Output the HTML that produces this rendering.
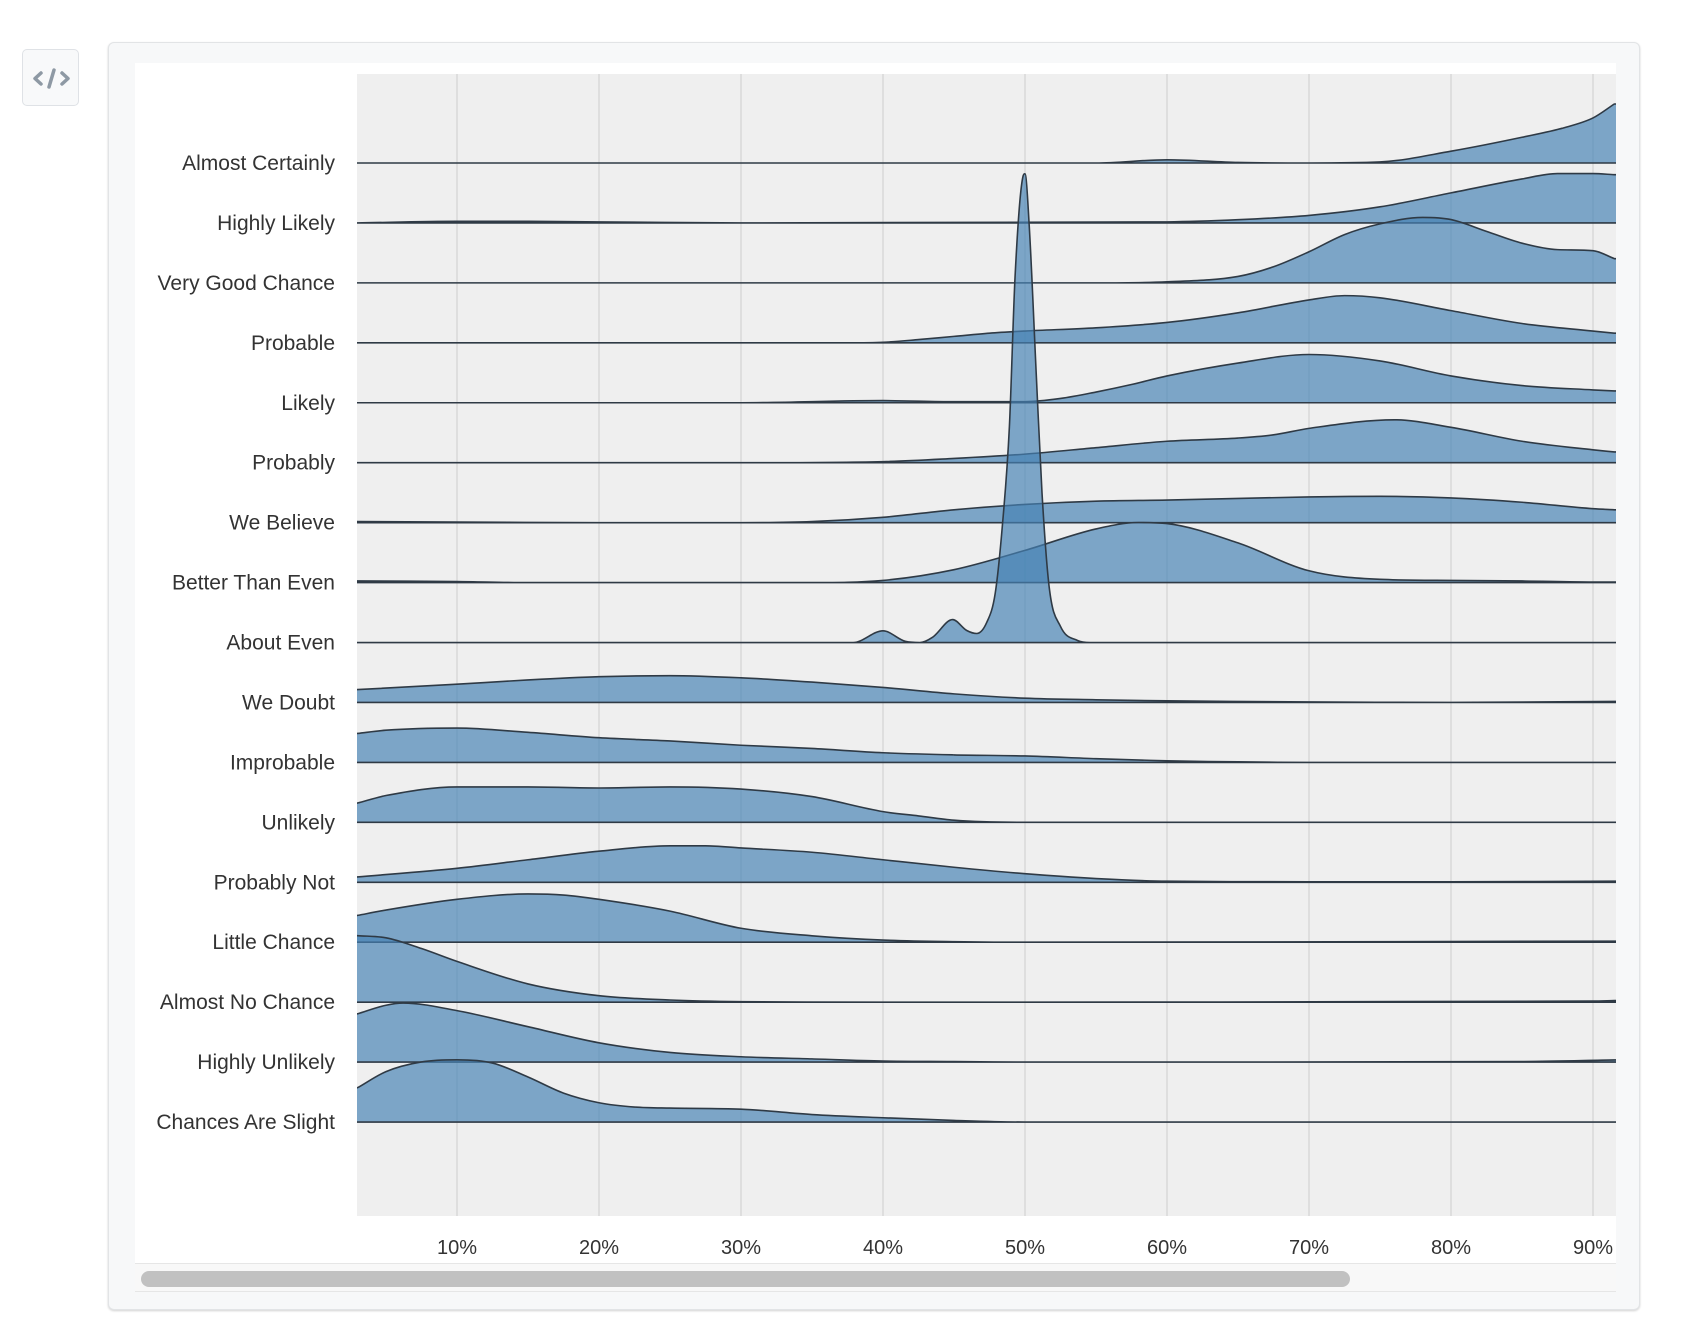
<!DOCTYPE html>
<html><head><meta charset="utf-8">
<style>
html,body{margin:0;padding:0;background:#fff;width:1682px;height:1344px;overflow:hidden;font-family:"Liberation Sans",Arial,sans-serif;}
#code-btn{position:absolute;left:22px;top:49px;width:57px;height:57px;border:1px solid #dfe2e6;border-radius:5px;background:#f8f9fa;box-sizing:border-box;}
#card{position:absolute;left:108px;top:42px;width:1532px;height:1268px;background:#f7f8f9;border:1px solid #e2e4e6;border-radius:6px;box-sizing:border-box;box-shadow:0 1px 2px rgba(0,0,0,0.18);}
#inner{position:absolute;left:135px;top:63px;width:1481px;height:1200px;background:#fff;}
#track{position:absolute;left:135px;top:1263px;width:1481px;height:29px;background:#f8f8f8;border-top:1px solid #e6e6e6;border-bottom:1px solid #e6e6e6;box-sizing:border-box;}
#thumb{position:absolute;left:141px;top:1271px;width:1209px;height:16px;background:#c1c1c1;border-radius:8px;}
svg{position:absolute;left:0;top:0;}
</style></head><body>
<div id="code-btn">
<svg width="57" height="57" viewBox="0 0 57 57"><path d="M18 23 L12 28.5 L18 34 M39 23 L45 28.5 L39 34 M31 20 L26 37" stroke="#8e99a4" stroke-width="3.5" fill="none" stroke-linecap="round" stroke-linejoin="round"/></svg>
</div>
<div id="card"></div>
<div id="inner"></div>
<div id="track"></div>
<div id="thumb"></div>
<svg id="chart" width="1682" height="1344"></svg>
<script>
const categories = ["Almost Certainly","Highly Likely","Very Good Chance","Probable","Likely","Probably","We Believe","Better Than Even","About Even","We Doubt","Improbable","Unlikely","Probably Not","Little Chance","Almost No Chance","Highly Unlikely","Chances Are Slight"];
const tickValues = [10,20,30,40,50,60,70,80,90];
const tickLabels = ["10%","20%","30%","40%","50%","60%","70%","80%","90%"];
const seriesX = [
 [3,40,55,60,65,70,75,80,85,88,90,91.5],
 [3,10,15,20,30,60,65,70,75,80,85,87.5,90,91.5],
 [3,55,60,65,67.5,70,72.5,75,78,80,82.5,85,87.5,90,91.5],
 [3,37.5,40,42.5,45,47.5,50,55,60,65,70,72.5,75,80,85,90,91.5],
 [3,30,40,45,50,52.5,55,57.5,60,65,70,75,80,85,90,91.5],
 [3,30,40,45,50,55,60,65,67.5,70,76,80,85,90,91.5],
 [3,10,20,30,35,40,45,50,55,60,70,75,80,85,90,91.5],
 [3,10,15,35,40,45,50,55,58,60,65,70,75,80,85,90,91.5],
 [3,37.9,40,41.6,42.6,43.5,44.9,45.9,46.6,47.3,47.9,48.4,48.9,49.3,49.85,50,50.3,50.8,51.2,51.7,52.5,53.7,54.6,91.5],
 [3,10,15,20,25,30,35,40,45,50,55,60,70,80,91.5],
 [3,5,10,15,20,25,30,35,40,45,50,55,60,65,70,91.5],
 [3,5,10,15,20,25,30,35,40,42.5,45,50,91.5],
 [3,10,15,20,25,27.5,30,35,40,45,50,55,60,70,80,91.5],
 [3,5,10,15,17.5,20,25,30,35,40,45,50,91.5],
 [3,5,7.5,10,15,20,25,30,40,90,91.5],
 [3,5,6.2,10,15,20,25,30,35,40,45,50,85,91.5],
 [3,5,7.5,10,12.5,15,17.5,20,22.5,25,30,35,40,45,50,91.5]
];
const seriesY = [
 [0,0,0,3,0.5,0,1,11,24,33,42,55],
 [0,1.5,1.5,1,0,1,3,7,15,28,41,46,46,45],
 [0,0,1,6,15,29,45,55,61,59,48,37,31,30,22.6],
 [0,0,0.5,3,6,9,11,14,19,28,40,44,42,30,18,11,9],
 [0,0,2,1,1,4,10,17,25,37,45,39,25,16,12,11],
 [0,0,1,4,8,14,20,23,26,32,40,33,20,12,10],
 [1,0.5,0,0,1,5,12,17,20,21,24,24.5,23,19,13,12],
 [1.5,1,0,0,2,12,30,50,56,55,37,11,3,2,1.5,0.5,0.5],
 [0,0,10.9,1,0,5,21.4,11.2,8.4,18.6,45.7,108,201,341,434,437,388,248,139,52,15,1.9,0,0],
 [12,17,21,24,25,23,19,14,8,4,2.5,1.5,0.5,0,1],
 [27,30,32,28,23,20,16,13,9,7,6,3.5,1.5,0.5,0,0],
 [18,25,33,33,32,33,31,24,10,6,2,0,0],
 [5,13,21,29,34,34,32,28,21,14,8,3.5,1,0.5,0.5,1],
 [25,30,40,45,44,40,29,13,6,2,0.5,0,1],
 [62,60,50,38,17,6,2,0.5,0,1,1.5],
 [45,53,55,48,33,18,9,5,3,1,0.5,0,0.5,2],
 [32,47,56,58,55,42,27,18,14,13,12,7,4,1.5,0,0]
];
const NS="http://www.w3.org/2000/svg";
const svg=document.getElementById('chart');
const plotL=357, plotR=1616, plotT=74, plotB=1216;
function xScale(v){return 883+(v-40)*14.2;}
function baseY(i){return 163+i*59.94;}
const hScale=1.0727;
function mk(t,a){const e=document.createElementNS(NS,t);for(const k in a)e.setAttribute(k,a[k]);return e;}
const defs=mk('defs',{});const cp=mk('clipPath',{id:'clip'});cp.appendChild(mk('rect',{x:plotL,y:0,width:plotR-plotL,height:plotB}));defs.appendChild(cp);svg.appendChild(defs);
const bg=mk('rect',{x:plotL,y:plotT,width:plotR-plotL,height:plotB-plotT,fill:'#efefef'});


svg.appendChild(bg);
tickValues.forEach((v,i)=>{
 const g=mk('line',{x1:xScale(v),x2:xScale(v),y1:plotT,y2:plotB,stroke:'#d9d9d9','stroke-width':1.5});
 
 
 svg.appendChild(g);
 const t=mk('text',{x:xScale(v),y:1254,'text-anchor':'middle','font-size':'20','fill':'#333'});
 t.textContent=tickLabels[i];
 
 
 svg.appendChild(t);
});
function monoPath(px,py){
 const n=px.length;const d=[],m=new Array(n);
 for(let i=0;i<n-1;i++)d.push((py[i+1]-py[i])/(px[i+1]-px[i]));
 m[0]=d[0];m[n-1]=d[n-2];
 for(let i=1;i<n-1;i++){m[i]=(d[i-1]*d[i]<=0)?0:(d[i-1]+d[i])/2;}
 for(let i=0;i<n-1;i++){if(d[i]===0){m[i]=0;m[i+1]=0;continue;}const a=m[i]/d[i],b=m[i+1]/d[i];const s=a*a+b*b;if(s>9){const t=3/Math.sqrt(s);m[i]=t*a*d[i];m[i+1]=t*b*d[i];}}
 let p='';
 for(let i=0;i<n-1;i++){const h=(px[i+1]-px[i])/3;p+=' C'+(px[i]+h).toFixed(2)+','+(py[i]+m[i]*h).toFixed(2)+' '+(px[i+1]-h).toFixed(2)+','+(py[i+1]-m[i+1]*h).toFixed(2)+' '+px[i+1].toFixed(2)+','+py[i+1].toFixed(2);}
 return p;
}
const gr=mk('g',{'clip-path':'url(#clip)'});svg.appendChild(gr);
categories.forEach((c,i)=>{
 const by=baseY(i);
 const px=seriesX[i].map(xScale), py=seriesY[i].map(h=>by-h*hScale);
 const n=px.length;
 const d='M'+(plotL-20)+','+by+' L'+(plotL-20)+','+py[0].toFixed(2)+' L'+px[0].toFixed(2)+','+py[0].toFixed(2)+monoPath(px,py)+' L'+(plotR+20)+','+py[n-1].toFixed(2)+' L'+(plotR+20)+','+by+' Z';
 const p=mk('path',{d:d,fill:'rgba(70,130,180,0.68)',stroke:'#2f3a45','stroke-width':1.6,'stroke-linejoin':'round'});
 
 
 gr.appendChild(p);
 const t=mk('text',{x:335,y:by+7,'text-anchor':'end','font-size':'21','fill':'#333'});
 t.textContent=c;
 
 
 svg.appendChild(t);
});
</script>
</body></html>
